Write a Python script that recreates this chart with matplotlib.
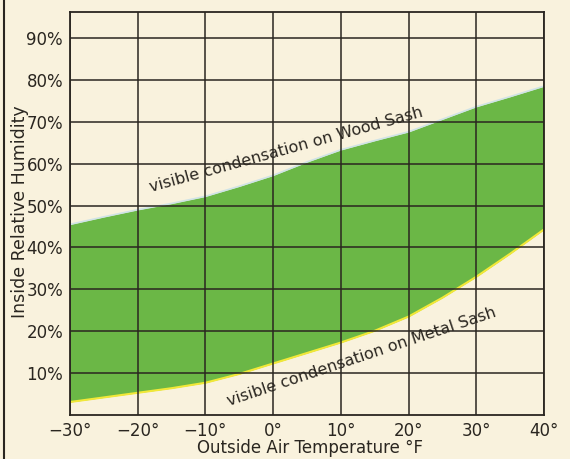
import matplotlib
matplotlib.use("Agg")
import matplotlib.pyplot as plt
import numpy as np

# Data
temps = [-30, -25, -20, -15, -10, -5, 0, 5, 10, 15, 20, 25, 30, 35, 40]
wood_sash = [45.5, 47.3, 49.0, 50.5, 52.2, 54.6, 57.2, 60.4, 63.3, 65.5, 67.6, 70.6, 73.6, 76.0, 78.5]
metal_sash = [3.1, 4.2, 5.3, 6.4, 7.7, 9.8, 12.3, 14.8, 17.3, 20.1, 23.5, 28.0, 33.0, 38.5, 44.3]
x_ticks = [-30, -20, -10, 0, 10, 20, 30, 40]
x_labels = ["\u221230\u00b0", "\u221220\u00b0", "\u221210\u00b0", "0\u00b0", "10\u00b0", "20\u00b0", "30\u00b0", "40\u00b0"]
y_ticks = [10, 20, 30, 40, 50, 60, 70, 80, 90]
y_labels = [f"{v}%" for v in y_ticks]

bg = "#f9f2dd"
green = "#6bb746"
ink = "#2a2620"

fig = plt.figure(figsize=(5.7, 4.59), dpi=100, facecolor=bg)
ax = fig.add_axes([70/570, 1-415/459, (544-70)/570, (415-12)/459])
ax.set_facecolor(bg)

ax.fill_between(temps, metal_sash, wood_sash, color=green, lw=0, zorder=1)
ax.plot(temps, metal_sash, color="#f2e838", lw=1.5, zorder=1.5)
ax.plot(temps, wood_sash, color="#cfe3e6", lw=1.2, zorder=1.5)

ax.set_xlim(-30, 40)
ax.set_ylim(0, 96.2)
ax.set_xticks(x_ticks)
ax.set_xticklabels(x_labels, fontsize=12, color=ink)
ax.set_yticks(y_ticks)
ax.set_yticklabels(y_labels, fontsize=12, color=ink)
ax.tick_params(length=0, pad=5)
ax.grid(True, color=ink, lw=1.1, zorder=2)
ax.set_axisbelow(False)
for sp in ax.spines.values():
    sp.set_color(ink)
    sp.set_linewidth(1.3)

ax.set_xlabel("Outside Air Temperature \u00b0F", fontsize=12, color=ink)
ax.set_ylabel("Inside Relative Humidity", fontsize=12.5, color=ink)
ax.xaxis.set_label_coords((310-70)/474, -(448-415)/403, transform=ax.transAxes)
ax.yaxis.set_label_coords(-(70-20)/474, (415-212)/403, transform=ax.transAxes)
ax.xaxis.label.set_va("center")
ax.yaxis.label.set_va("center")

ax.text(2.0, 63.4, "visible condensation on Wood Sash", rotation=15.5,
        ha="center", va="center", fontsize=11.5, color=ink, zorder=3,
        rotation_mode="anchor")
ax.text(13.0, 13.9, "visible condensation on Metal Sash", rotation=18.5,
        ha="center", va="center", fontsize=11.5, color=ink, zorder=3,
        rotation_mode="anchor")

fig.add_artist(plt.Line2D([4/570, 4/570], [0, 1], color=ink, lw=1.5, transform=fig.transFigure))

fig.savefig("out.png", dpi=100, facecolor=bg)
